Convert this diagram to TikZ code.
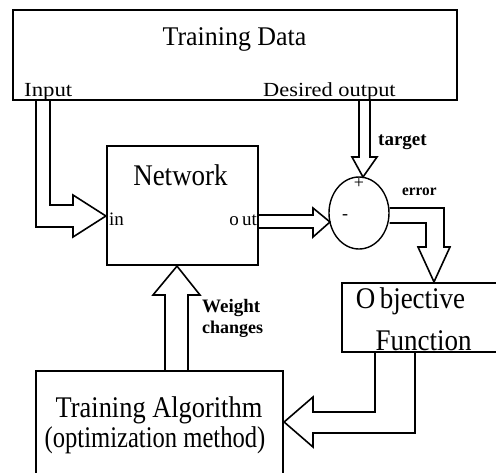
\documentclass[tikz,border=0pt]{standalone}
\usepackage{fontspec}
\usepackage{graphicx}
\setmainfont{Liberation Serif}
\usetikzlibrary{shapes.geometric,calc}
\newcommand{\hsx}[2]{\scalebox{#1}[1]{#2}}
\begin{document}
\begin{tikzpicture}[x=1pt,y=-1pt,
  box/.style={draw, line width=2.2pt, inner sep=0pt},
  harrow/.style={draw, line width=1.6pt, line join=miter},
  lbl/.style={inner sep=0pt, anchor=base},
  lblw/.style={inner sep=0pt, anchor=base west},
  fs/.style={font=\fontsize{#1}{#1}\selectfont},
  bl/.style={font=\fontsize{#1}{#1}\selectfont\bfseries}]
\useasboundingbox (0,0) rectangle (496,472);
\fill[white] (0,0) rectangle (496,472);
\clip (0,0) rectangle (496,472);

% boxes
\node[box, minimum width=444pt, minimum height=90pt] (TD) at (235,55) {};
\node[box, minimum width=151pt, minimum height=119pt] (Net) at (182.5,205.5) {};
\node[box, minimum width=178pt, minimum height=69pt] (Obj) at (431,317.5) {};
\node[box, minimum width=247pt, minimum height=124pt] (TA) at (159.5,433) {};
\node[draw, ellipse, line width=1.4pt, minimum width=60pt, minimum height=72pt, inner sep=0pt] (circ) at (359,213) {};

% texts
\node[lbl, fs=27] (tdt) at (234.5,45) {\hsx{0.96}{Training Data}};
\node[lblw, fs=20] (inp) at (24,96) {\hsx{1.14}{Input}};
\node[lblw, fs=20] (des) at (263,96) {\hsx{1.12}{Desired output}};
\node[lbl, fs=30] (nett) at (180.5,185) {\hsx{0.9}{Network}};
\node[lblw, fs=19] (in) at (109,225) {in};
\node[inner sep=0pt, anchor=base east, fs=19] (out) at (257,225) {o\,ut};
\node[lblw, bl=19] (tgt) at (378,145) {\hsx{1.0}{target}};
\node[lblw, bl=16] (err) at (402,195) {\hsx{0.95}{error}};
\node[inner sep=0pt, fs=18] (plus) at (359,183) {+};
\node[inner sep=0pt, fs=18] (minus) at (345,217) {-};
\node[lbl, fs=30] (objt) at (410.5,308) {\hsx{0.9}{O\,bjective}};
\node[lbl, fs=30] (funt) at (423.5,350) {\hsx{0.9}{Function}};
\node[lblw, bl=19] (wt) at (202,312) {\hsx{1.0}{Weight}};
\node[lblw, bl=18] (chg) at (202,333) {\hsx{1.0}{changes}};
\node[lbl, fs=30] (tat) at (159,417) {\hsx{0.88}{Training Algorithm}};
\node[lbl, fs=30] (tao) at (155,447) {\hsx{0.82}{(optimization method)}};

% hollow arrows
\draw[harrow] (50,0 |- TD.south) -- (50,205) -- (73,205) -- (73,195)
  -- (Net.west |- 0,216) -- (73,237) -- (73,227) -- (36,227) -- (36,0 |- TD.south);
\draw[harrow] (359,0 |- TD.south) -- (359,157) -- (352,157) -- (363,177)
  -- (377,157) -- (370,157) -- (370,0 |- TD.south);
\draw[harrow] (Net.east |- 0,215) -- (313,215) -- (313,208) -- (330,222)
  -- (313,237) -- (313,228) -- (Net.east |- 0,228);
\draw[harrow] (circ.east |- 0,208) -- (444,208) -- (444,247) -- (450,247)
  -- (434,0 |- Obj.north) -- (418,247) -- (426,247) -- (426,223) -- (circ.east |- 0,223);
\draw[harrow] (375,0 |- Obj.south) -- (375,412) -- (313,412) -- (313,397)
  -- (TA.east |- 0,422) -- (313,447) -- (313,433) -- (415,433) -- (415,0 |- Obj.south);
\draw[harrow] (165,0 |- TA.north) -- (165,295) -- (153,295) -- (177,0 |- Net.south)
  -- (200,295) -- (188,295) -- (188,0 |- TA.north);
\end{tikzpicture}
\end{document}
